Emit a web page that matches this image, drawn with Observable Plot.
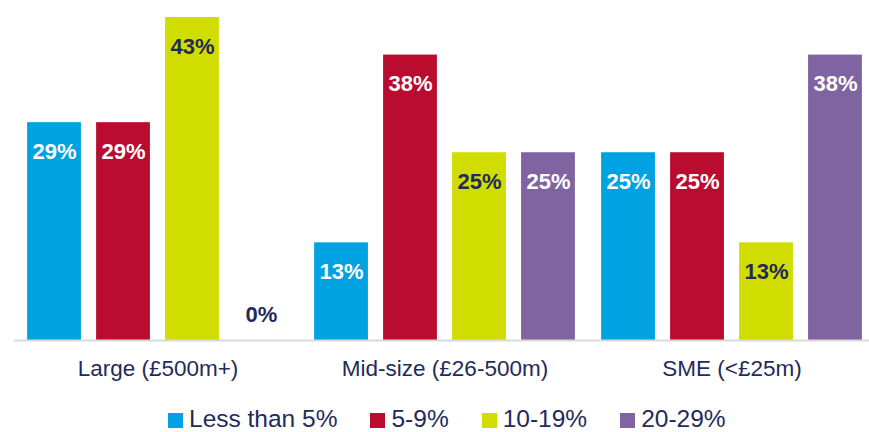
<!DOCTYPE html>
<html>
<head>
<meta charset="utf-8">
<script src="https://cdn.jsdelivr.net/npm/d3@7"></script>
<script src="https://cdn.jsdelivr.net/npm/@observablehq/plot@0.6"></script>
<style>
  html, body { margin: 0; padding: 0; background: #fff; overflow: hidden; }
  #wrap { position: relative; width: 869px; height: 432px; font-family: "Liberation Sans", Arial, sans-serif; }
  #legend { position: absolute; left: 168px; top: 406px; height: 26px; display: flex; align-items: center; color: #1f2b5b; font-size: 24.5px; line-height: 26px; }
  .item { display: flex; align-items: center; margin-right: 33px; }
  .sw { width: 15px; height: 15px; margin-right: 6px; margin-top: 2px; }
</style>
</head>
<body>
<div id="wrap"><div id="chart"></div><div id="legend"></div></div>
<script>
const groups = ["Large (£500m+)", "Mid-size (£26-500m)", "SME (<£25m)"];
const series = ["Less than 5%", "5-9%", "10-19%", "20-29%"];
const lessThan5 = [29, 13, 25];
const from5to9 = [29, 38, 25];
const from10to19 = [43, 25, 13];
const from20to29 = [0, 25, 38];
const seriesColors = ["#00a2e1", "#ba0c2f", "#d1dc00", "#8064a1"];
const navy = "#1f2b5b";

const valuesBySeries = [lessThan5, from5to9, from10to19, from20to29];
const rows = [];
groups.forEach((g, gi) => {
  series.forEach((s, si) => {
    rows.push({group: g, series: s, value: valuesBySeries[si][gi], dark: si === 2});
  });
});

const label = d => d.value + "%";

const chart = Plot.plot({
  width: 869,
  height: 400,
  marginLeft: 14,
  marginRight: -6,
  marginTop: 2,
  marginBottom: 60,
  style: {fontFamily: "'Liberation Sans', Arial, sans-serif", fontSize: "22.5px", color: navy, background: "transparent", overflow: "visible"},
  facet: {data: rows, x: "group"},
  fx: {domain: groups, padding: 0, label: null, axis: "bottom", tickSize: 0, tickPadding: 20},
  x: {domain: series, axis: null, paddingInner: 0.22, paddingOuter: 0.19, round: false},
  y: {domain: [0, 45], axis: null},
  color: {domain: series, range: seriesColors},
  marks: [
    Plot.barY(rows, {x: "series", y: "value", fill: "series"}),
    Plot.ruleY([0], {stroke: "#d9d9d9", strokeWidth: 2}),
    Plot.text(rows, {filter: d => d.value > 0 && !d.dark, x: "series", y: "value", text: label, dy: 29, fill: "white", fontWeight: "bold", fontSize: 22}),
    Plot.text(rows, {filter: d => d.value > 0 && d.dark, x: "series", y: "value", text: label, dy: 29, fill: navy, fontWeight: "bold", fontSize: 22}),
    Plot.text(rows, {filter: d => d.value === 0, x: "series", y: "value", text: label, dy: -26, fill: navy, fontWeight: "bold", fontSize: 22})
  ]
});
document.getElementById("chart").appendChild(chart);

const legend = document.getElementById("legend");
series.forEach((s, i) => {
  const item = document.createElement("div");
  item.className = "item";
  const sw = document.createElement("span");
  sw.className = "sw";
  sw.style.background = seriesColors[i];
  const text = document.createElement("span");
  text.textContent = s;
  item.appendChild(sw);
  item.appendChild(text);
  legend.appendChild(item);
});
</script>
</body>
</html>
